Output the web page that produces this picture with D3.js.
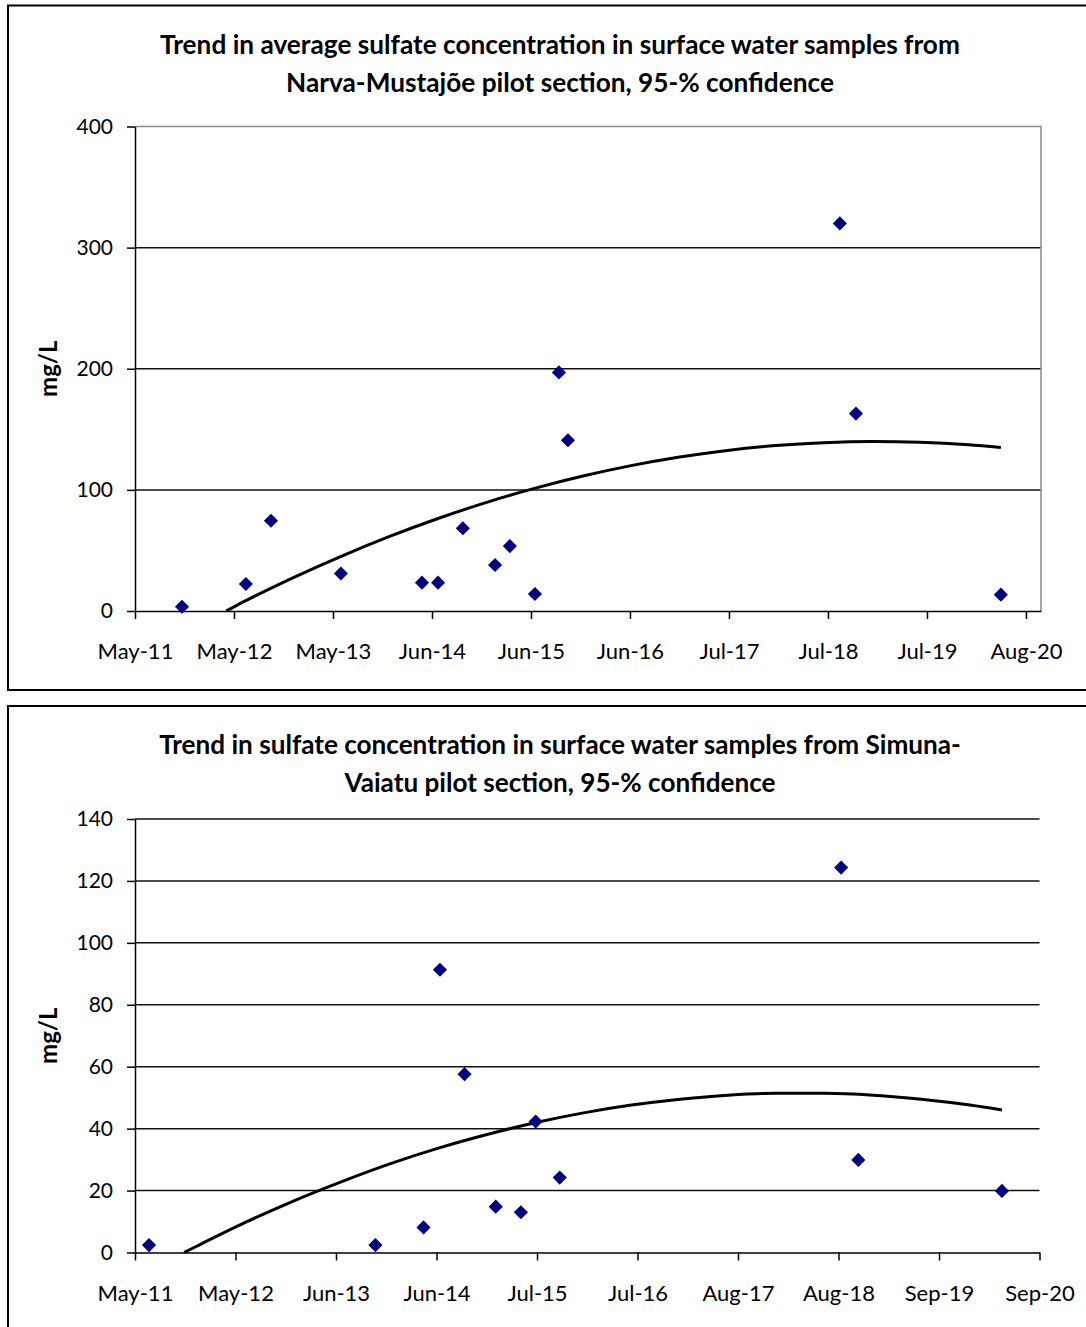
<!DOCTYPE html>
<html>
<head>
<meta charset="utf-8">
<script src="https://cdn.jsdelivr.net/npm/d3@7"></script>
<style>
  body { margin: 0; background: #fff; }
  svg { display: block; }
  text { font-family: Lato, "Open Sans", sans-serif; fill: #000; }
</style>
</head>
<body>
<svg id="chart" width="1086" height="1327"></svg>
<script>
// ---- Narva-Mustajõe: sample dates and sulfate (mg/L) ----
const narvaDates = ["2011-11-04","2012-07-03","2012-10-06","2013-06-28","2014-05-01","2014-07-01","2014-10-03",
  "2015-02-02","2015-03-30","2015-07-03","2015-10-02","2015-11-05","2018-08-31","2018-10-31","2020-05-02"];
const narvaValues = [3.5, 22.3, 74.5, 31, 23.4, 23.4, 68.3, 38, 53.6, 14, 197, 141, 320, 163, 13.5];

// fitted trend (mg/L)
const narvaTrendDates = ["2012-04-20","2012-07-01","2013-01-01","2013-07-01","2014-01-01","2014-07-01","2015-01-01",
  "2015-07-01","2016-01-01","2016-07-01","2017-01-01","2017-07-01","2018-01-01","2018-07-01","2019-01-01",
  "2019-07-01","2020-01-01","2020-05-02"];
const narvaTrendValues = [0, 8.3, 27.8, 45.4, 61.8, 76.4, 89.7, 101.2, 111.4, 120, 127.1, 132.6, 136.6, 139, 140,
  139.4, 137.3, 135];

const narvaTickDates = ["2011-05-10","2012-05-19","2013-05-29","2014-06-08","2015-06-18","2016-06-27",
  "2017-07-07","2018-07-17","2019-07-27","2020-08-05"];
const narvaTickLabels = ["May-11","May-12","May-13","Jun-14","Jun-15","Jun-16","Jul-17","Jul-18","Jul-19","Aug-20"];
const narvaYTicks = [0, 100, 200, 300, 400];

// ---- Simuna-Vaiatu: sample dates and sulfate (mg/L) ----
const simunaDates = ["2011-07-03","2013-11-05","2014-05-06","2014-07-07","2014-10-08","2015-02-03","2015-05-09",
  "2015-07-04","2015-10-03","2018-09-01","2018-11-05","2020-05-01"];
const simunaValues = [2.4, 2.4, 8.1, 91.3, 57.6, 14.8, 13.0, 42.3, 24.2, 124.3, 29.9, 19.9];

const simunaTrendDates = ["2011-11-13","2012-01-01","2012-07-01","2013-01-01","2013-07-01","2014-01-01","2014-07-01",
  "2015-01-01","2015-07-01","2016-01-01","2016-07-01","2017-01-01","2017-07-01","2018-01-01","2018-07-01",
  "2019-01-01","2019-07-01","2020-01-01","2020-05-01"];
const simunaTrendValues = [0, 2.1, 9.7, 16.7, 22.9, 28.7, 33.7, 38.1, 41.9, 45.1, 47.6, 49.5, 50.8, 51.4, 51.4,
  50.8, 49.5, 47.6, 46.0];

const simunaTickDates = ["2011-05-11","2012-05-25","2013-06-09","2014-06-24","2015-07-09","2016-07-23",
  "2017-08-07","2018-08-22","2019-09-06","2020-09-20"];
const simunaTickLabels = ["May-11","May-12","Jun-13","Jun-14","Jul-15","Jul-16","Aug-17","Aug-18","Sep-19","Sep-20"];
const simunaYTicks = [0, 20, 40, 60, 80, 100, 120, 140];

const titleNarva = ["Trend in average sulfate concentration in surface water samples from",
  "Narva-Mustajõe pilot section, 95-% confidence"];
const titleSimuna = ["Trend in sulfate concentration in surface water samples from Simuna-",
  "Vaiatu pilot section, 95-% confidence"];

// ---- drawing ----
const parse = d3.utcParse("%Y-%m-%d");
const svg = d3.select("#chart");
const MARKER = "#000080";

function drawPanel(cfg) {
  const g = svg.append("g");

  // outer chart frame (extends past the right edge)
  g.append("rect")
    .attr("x", 8).attr("y", cfg.frameTop)
    .attr("width", 1200).attr("height", cfg.frameH)
    .attr("fill", "none").attr("stroke", "#000").attr("stroke-width", 2);

  // title: size the first line to its box width, reuse that size for line two
  const t = g.append("g");
  const lines = cfg.title.map((line, i) => t.append("text")
    .attr("x", 560).attr("y", cfg.titleY[i])
    .attr("text-anchor", "middle")
    .attr("font-weight", "bold")
    .attr("font-size", 22)
    .text(line));
  const w = lines[0].node().getComputedTextLength();
  const size = 22 * cfg.titleWidth / w;
  lines.forEach(l => l.attr("font-size", size));

  const x = d3.scaleUtc()
    .domain([parse(cfg.xDomain[0]), parse(cfg.xDomain[1])])
    .range([cfg.left, cfg.right]);
  const y = d3.scaleLinear()
    .domain([0, d3.max(cfg.yTicks)])
    .range([cfg.bottom, cfg.top]);

  // horizontal gridlines
  const gridVals = cfg.grayTop ? cfg.yTicks.slice(1, -1) : cfg.yTicks.slice(1);
  g.append("g").selectAll("line").data(gridVals).join("line")
    .attr("x1", cfg.left).attr("x2", cfg.right)
    .attr("y1", d => y(d)).attr("y2", d => y(d))
    .attr("stroke", "#111").attr("stroke-width", 1.5);

  // gray plot-area border (top and right)
  if (cfg.grayTop) {
    g.append("path")
      .attr("d", `M${cfg.left},${y(d3.max(cfg.yTicks))}H${cfg.right}V${cfg.bottom}`)
      .attr("fill", "none").attr("stroke", "#8a8a8a").attr("stroke-width", 1.5);
  }

  // y axis
  const ya = g.append("g")
    .attr("transform", `translate(${cfg.left},0)`)
    .call(d3.axisLeft(y).tickValues(cfg.yTicks).tickSize(8).tickSizeOuter(0).tickPadding(14).tickFormat(d3.format("d")));
  ya.select(".domain").attr("stroke", "#000").attr("stroke-width", 1.5);
  ya.selectAll(".tick line").attr("stroke", "#000").attr("stroke-width", 1.5);
  ya.selectAll(".tick text").attr("font-size", 21).attr("font-family", "Lato, sans-serif").attr("fill", "#000");

  // x axis
  const tickDates = cfg.tickDates.map(parse);
  const xa = g.append("g")
    .attr("transform", `translate(0,${cfg.bottom})`)
    .call(d3.axisBottom(x).tickValues(tickDates).tickSize(8).tickSizeOuter(0).tickPadding(cfg.xPad)
      .tickFormat((d, i) => cfg.tickLabels[i]));
  xa.select(".domain").attr("stroke", "#000").attr("stroke-width", 1.5);
  xa.selectAll(".tick line").attr("stroke", "#000").attr("stroke-width", 1.5);
  xa.selectAll(".tick text").attr("font-size", 22).attr("font-family", "Lato, sans-serif").attr("fill", "#000");

  // y axis title
  g.append("text")
    .attr("transform", `translate(57,${(cfg.top + cfg.bottom) / 2}) rotate(-90)`)
    .attr("text-anchor", "middle")
    .attr("font-weight", "bold")
    .attr("font-size", 24)
    .text("mg/L");

  // trend curve
  const trend = cfg.trendDates.map((d, i) => [parse(d), cfg.trendValues[i]]);
  g.append("path")
    .datum(trend)
    .attr("fill", "none").attr("stroke", "#000").attr("stroke-width", 3)
    .attr("stroke-linejoin", "round")
    .attr("d", d3.line().x(d => x(d[0])).y(d => y(d[1])).curve(d3.curveMonotoneX));

  // sample points (diamonds)
  const pts = cfg.dates.map((d, i) => [parse(d), cfg.values[i]]);
  const sym = d3.symbol().type(d3.symbolSquare).size(100);
  g.append("g").selectAll("path").data(pts).join("path")
    .attr("transform", d => `translate(${x(d[0])},${y(d[1])}) rotate(45)`)
    .attr("d", sym)
    .attr("fill", MARKER);
}

drawPanel({
  frameTop: 5.5, frameH: 684.5,
  title: titleNarva, titleY: [54, 91.5], titleWidth: 800,
  left: 135, right: 1041, top: 126.5, bottom: 611,
  xDomain: ["2011-05-10", "2020-10-01"],
  yTicks: narvaYTicks, grayTop: true,
  tickDates: narvaTickDates, tickLabels: narvaTickLabels, xPad: 24,
  dates: narvaDates, values: narvaValues,
  trendDates: narvaTrendDates, trendValues: narvaTrendValues
});

drawPanel({
  frameTop: 706, frameH: 700,
  title: titleSimuna, titleY: [754, 791.5], titleWidth: 802,
  left: 135, right: 1039.5, top: 819, bottom: 1252.5,
  xDomain: ["2011-05-11", "2020-09-20"],
  yTicks: simunaYTicks, grayTop: false,
  tickDates: simunaTickDates, tickLabels: simunaTickLabels, xPad: 25,
  dates: simunaDates, values: simunaValues,
  trendDates: simunaTrendDates, trendValues: simunaTrendValues
});
</script>
</body>
</html>
